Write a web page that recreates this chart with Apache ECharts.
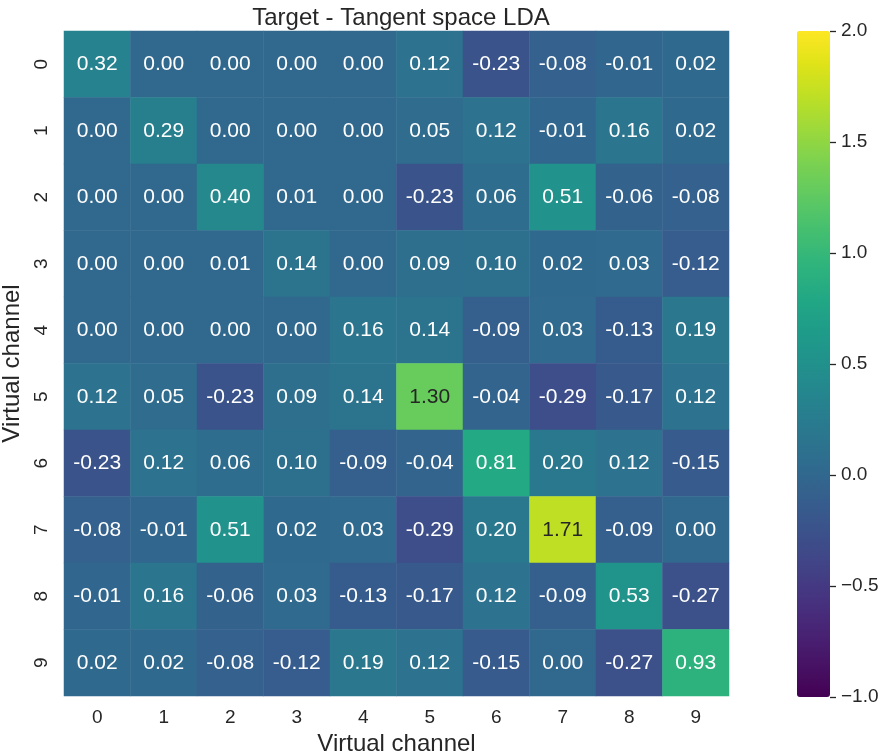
<!DOCTYPE html>
<html>
<head>
<meta charset="utf-8">
<script src="https://cdn.jsdelivr.net/npm/echarts@6/dist/echarts.min.js"></script>
<style>
html,body{margin:0;padding:0;background:#fff;}
#chart{width:880px;height:754px;}
</style>
</head>
<body>
<div id="chart"></div>
<script>
const xCategories = ['0','1','2','3','4','5','6','7','8','9'];
const yCategories = ['0','1','2','3','4','5','6','7','8','9'];
const row0 = [0.32, 0.00, 0.00, 0.00, 0.00, 0.12, -0.23, -0.08, -0.01, 0.02];
const row1 = [0.00, 0.29, 0.00, 0.00, 0.00, 0.05, 0.12, -0.01, 0.16, 0.02];
const row2 = [0.00, 0.00, 0.40, 0.01, 0.00, -0.23, 0.06, 0.51, -0.06, -0.08];
const row3 = [0.00, 0.00, 0.01, 0.14, 0.00, 0.09, 0.10, 0.02, 0.03, -0.12];
const row4 = [0.00, 0.00, 0.00, 0.00, 0.16, 0.14, -0.09, 0.03, -0.13, 0.19];
const row5 = [0.12, 0.05, -0.23, 0.09, 0.14, 1.30, -0.04, -0.29, -0.17, 0.12];
const row6 = [-0.23, 0.12, 0.06, 0.10, -0.09, -0.04, 0.81, 0.20, 0.12, -0.15];
const row7 = [-0.08, -0.01, 0.51, 0.02, 0.03, -0.29, 0.20, 1.71, -0.09, 0.00];
const row8 = [-0.01, 0.16, -0.06, 0.03, -0.13, -0.17, 0.12, -0.09, 0.53, -0.27];
const row9 = [0.02, 0.02, -0.08, -0.12, 0.19, 0.12, -0.15, 0.00, -0.27, 0.93];
const rows = [row0,row1,row2,row3,row4,row5,row6,row7,row8,row9];
const colorbarTicks = [-1.0, -0.5, 0.0, 0.5, 1.0, 1.5, 2.0];
const vMin = -1, vMax = 2;

const viridis = ['#440154','#471365','#482475','#463480','#414487','#3b528b','#355f8d','#2f6c8e','#2a788e','#25848e','#21918c','#1e9c89','#22a884','#2fb47c','#44bf70','#5ec962','#7ad151','#9bd93c','#bddf26','#dfe318','#fde725'];

const data = [];
rows.forEach((r, yi) => r.forEach((v, xi) => {
  data.push({value: [xi, yi, v], label: {color: v > 1.0 ? '#262626' : '#ffffff'}});
}));

const FONT = '"Liberation Sans", Arial, sans-serif';
const TXT = '#262626';
const chart = echarts.init(document.getElementById('chart'));
chart.setOption({
  animation: false,
  backgroundColor: '#ffffff',
  title: {
    text: 'Target - Tangent space LDA',
    left: 396, top: 1, textAlign: 'center',
    textStyle: {fontFamily: FONT, fontSize: 24, fontWeight: 'normal', color: TXT}
  },
  grid: [
    {left: 64, top: 31, width: 665, height: 665, outerBoundsMode: 'none', containLabel: false},
    {left: 797, top: 31, width: 33, height: 666, outerBoundsMode: 'none', containLabel: false, z: 10}
  ],
  xAxis: [
    {type: 'category', gridIndex: 0, data: xCategories,
     axisLine: {show: false}, axisTick: {show: false}, splitArea: {show: false},
     axisLabel: {fontFamily: FONT, fontSize: 19, color: TXT, margin: 12},
     name: 'Virtual channel', nameLocation: 'middle', nameGap: 30,
     nameTextStyle: {fontFamily: FONT, fontSize: 24, color: TXT}},
    {type: 'value', gridIndex: 1, show: false, min: 0, max: 1,
     axisLine: {onZero: false}}
  ],
  yAxis: [
    {type: 'category', gridIndex: 0, data: yCategories, inverse: true,
     axisLine: {show: false}, axisTick: {show: false}, splitArea: {show: false},
     axisLabel: {fontFamily: FONT, fontSize: 19, color: TXT, rotate: 90, margin: 13},
     name: 'Virtual channel', nameLocation: 'middle', nameGap: 37, nameRotate: 90,
     nameTextStyle: {fontFamily: FONT, fontSize: 24, color: TXT}},
    {type: 'value', gridIndex: 1, position: 'right', min: vMin, max: vMax, interval: 0.5,
     z: 20,
     axisLine: {show: false, onZero: false}, splitLine: {show: false},
     axisTick: {show: true, inside: false, length: 6, lineStyle: {color: TXT, width: 1.3}},
     axisLabel: {fontFamily: FONT, fontSize: 19, color: TXT, margin: 11,
       formatter: v => colorbarTicks.indexOf(v) >= 0 ? (v < 0 ? '\u2212' + Math.abs(v).toFixed(1) : v.toFixed(1)) : ''}}
  ],
  visualMap: {
    type: 'continuous', min: vMin, max: vMax, seriesIndex: 0, dimension: 2,
    calculable: false, show: true, orient: 'vertical',
    left: 797, top: 31, itemWidth: 33, itemHeight: 666, padding: 0,
    text: null, showLabel: false, hoverLink: false, indicatorSize: 0,
    inRange: {color: viridis}
  },
  series: [{
    type: 'heatmap', xAxisIndex: 0, yAxisIndex: 0, data: data,
    label: {show: true, fontFamily: FONT, fontSize: 21,
      formatter: p => p.value[2].toFixed(2)},
    itemStyle: {borderWidth: 0},
    emphasis: {disabled: true}
  }]
});
</script>
</body>
</html>
